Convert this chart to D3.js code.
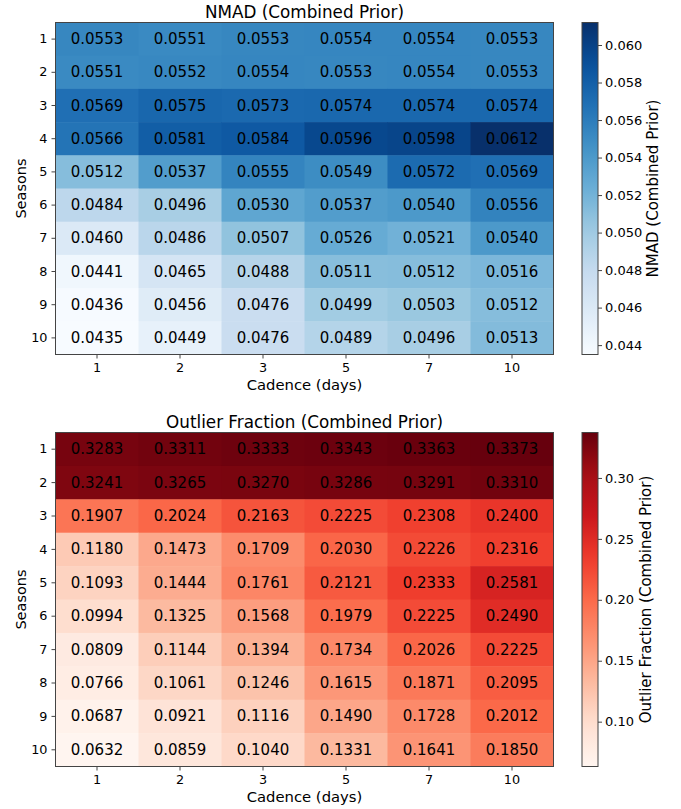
<!DOCTYPE html>
<html>
<head>
<meta charset="utf-8">
<script src="https://cdn.jsdelivr.net/npm/d3@7"></script>
<style>
  html, body { margin: 0; padding: 0; background: #fff; }
  svg { display: block; font-family: "DejaVu Sans", sans-serif; }
</style>
</head>
<body>
<svg id="chart" width="681" height="809"></svg>
<script>
// Axis categories
const cadences = ["1", "2", "3", "5", "7", "10"];
const seasons = ["1", "2", "3", "4", "5", "6", "7", "8", "9", "10"];

// NMAD per season (rows) and cadence (columns)
const nmadValues = [
  [0.0553, 0.0551, 0.0553, 0.0554, 0.0554, 0.0553],
  [0.0551, 0.0552, 0.0554, 0.0553, 0.0554, 0.0553],
  [0.0569, 0.0575, 0.0573, 0.0574, 0.0574, 0.0574],
  [0.0566, 0.0581, 0.0584, 0.0596, 0.0598, 0.0612],
  [0.0512, 0.0537, 0.0555, 0.0549, 0.0572, 0.0569],
  [0.0484, 0.0496, 0.0530, 0.0537, 0.0540, 0.0556],
  [0.0460, 0.0486, 0.0507, 0.0526, 0.0521, 0.0540],
  [0.0441, 0.0465, 0.0488, 0.0511, 0.0512, 0.0516],
  [0.0436, 0.0456, 0.0476, 0.0499, 0.0503, 0.0512],
  [0.0435, 0.0449, 0.0476, 0.0489, 0.0496, 0.0513]
];

// Outlier fraction per season (rows) and cadence (columns)
const outlierValues = [
  [0.3283, 0.3311, 0.3333, 0.3343, 0.3363, 0.3373],
  [0.3241, 0.3265, 0.3270, 0.3286, 0.3291, 0.3310],
  [0.1907, 0.2024, 0.2163, 0.2225, 0.2308, 0.2400],
  [0.1180, 0.1473, 0.1709, 0.2030, 0.2226, 0.2316],
  [0.1093, 0.1444, 0.1761, 0.2121, 0.2333, 0.2581],
  [0.0994, 0.1325, 0.1568, 0.1979, 0.2225, 0.2490],
  [0.0809, 0.1144, 0.1394, 0.1734, 0.2026, 0.2225],
  [0.0766, 0.1061, 0.1246, 0.1615, 0.1871, 0.2095],
  [0.0687, 0.0921, 0.1116, 0.1490, 0.1728, 0.2012],
  [0.0632, 0.0859, 0.1040, 0.1331, 0.1641, 0.1850]
];

// Colorbar tick values
const nmadTicks = [0.044, 0.046, 0.048, 0.050, 0.052, 0.054, 0.056, 0.058, 0.060];
const outlierTicks = [0.10, 0.15, 0.20, 0.25, 0.30];

// Sequential palettes (ColorBrewer 9-class), linearly interpolated
const bluesStops = ["#f7fbff", "#deebf7", "#c6dbef", "#9ecae1", "#6baed6", "#4292c6", "#2171b5", "#08519c", "#08306b"];
const redsStops = ["#fff5f0", "#fee0d2", "#fcbba1", "#fc9272", "#fb6a4a", "#ef3b2c", "#cb181d", "#a50f15", "#67000d"];

const svg = d3.select("#chart");
const frameColor = "#444";

function drawHeatmap(cfg) {
  const { values, top, bottom, left, right, stops, title, label, labelX, ticks, fmt, tickFmt } = cfg;
  const flat = values.flat();
  const vmin = d3.min(flat), vmax = d3.max(flat);
  const interp = d3.piecewise(d3.interpolateRgb, stops);
  const color = d3.scaleSequential(interp).domain([vmin, vmax]);

  const x = d3.scaleBand().domain(cadences).range([left, right]);
  const y = d3.scaleBand().domain(seasons).range([top, bottom]);

  const g = svg.append("g");

  const cells = [];
  values.forEach((row, i) => row.forEach((v, j) => cells.push({ s: seasons[i], c: cadences[j], v })));

  g.selectAll("rect.cell").data(cells).join("rect")
    .attr("class", "cell")
    .attr("x", d => x(d.c))
    .attr("y", d => y(d.s))
    .attr("width", x.bandwidth() + 0.5)
    .attr("height", y.bandwidth() + 0.5)
    .attr("fill", d => color(d.v));

  g.selectAll("text.val").data(cells).join("text")
    .attr("class", "val")
    .attr("x", d => x(d.c) + x.bandwidth() / 2)
    .attr("y", d => y(d.s) + y.bandwidth() / 2)
    .attr("text-anchor", "middle")
    .attr("dominant-baseline", "central")
    .attr("font-size", 15)
    .attr("fill", "#000")
    .text(d => fmt(d.v));

  g.append("rect")
    .attr("x", left).attr("y", top)
    .attr("width", right - left).attr("height", bottom - top)
    .attr("fill", "none").attr("stroke", frameColor).attr("stroke-width", 1);

  const xAxis = g.append("g")
    .attr("transform", `translate(0,${bottom})`)
    .call(d3.axisBottom(x).tickSize(4).tickPadding(4));
  const yAxis = g.append("g")
    .attr("transform", `translate(${left},0)`)
    .call(d3.axisLeft(y).tickSize(4).tickPadding(4));
  [xAxis, yAxis].forEach(a => {
    a.select(".domain").remove();
    a.selectAll(".tick line").attr("stroke", frameColor);
    a.selectAll(".tick text").attr("font-size", 12.8).attr("fill", "#000").attr("font-family", "DejaVu Sans");
  });

  g.append("text")
    .attr("x", (left + right) / 2).attr("y", top - 4.5)
    .attr("text-anchor", "middle")
    .attr("font-size", 16.8)
    .text(title);

  g.append("text")
    .attr("x", (left + right) / 2).attr("y", bottom + 35)
    .attr("text-anchor", "middle")
    .attr("font-size", 14.8)
    .text("Cadence (days)");

  g.append("text")
    .attr("transform", `translate(26,${(top + bottom) / 2}) rotate(-90)`)
    .attr("text-anchor", "middle")
    .attr("font-size", 14.5)
    .text("Seasons");

  // Colorbar
  const cbLeft = 582, cbWidth = 16;
  const cbScale = d3.scaleLinear().domain([vmin, vmax]).range([bottom, top]);
  const gradId = "grad-" + cfg.id;
  const grad = svg.append("defs").append("linearGradient")
    .attr("id", gradId).attr("x1", 0).attr("y1", 1).attr("x2", 0).attr("y2", 0);
  d3.range(0, 1.0001, 0.05).forEach(t => {
    grad.append("stop").attr("offset", t).attr("stop-color", interp(t));
  });
  g.append("rect")
    .attr("x", cbLeft).attr("y", top)
    .attr("width", cbWidth).attr("height", bottom - top)
    .attr("fill", `url(#${gradId})`)
    .attr("stroke", frameColor).attr("stroke-width", 1);

  const cbAxis = g.append("g")
    .attr("transform", `translate(${cbLeft + cbWidth},0)`)
    .call(d3.axisRight(cbScale).tickValues(ticks).tickFormat(tickFmt).tickSize(4).tickPadding(3));
  cbAxis.select(".domain").remove();
  cbAxis.selectAll(".tick line").attr("stroke", frameColor);
  cbAxis.selectAll(".tick text").attr("font-size", 13).attr("fill", "#000").attr("font-family", "DejaVu Sans");

  g.append("text")
    .attr("transform", `translate(${labelX},${(top + bottom) / 2}) rotate(-90)`)
    .attr("text-anchor", "middle")
    .attr("font-size", 15)
    .text(label);
}

drawHeatmap({
  id: "nmad",
  values: nmadValues,
  top: 22.5, bottom: 354.5, left: 55.5, right: 553.5,
  stops: bluesStops,
  title: "NMAD (Combined Prior)",
  label: "NMAD (Combined Prior)",
  labelX: 658,
  ticks: nmadTicks,
  fmt: d3.format(".4f"),
  tickFmt: d3.format(".3f")
});

drawHeatmap({
  id: "outlier",
  values: outlierValues,
  top: 432.5, bottom: 766.5, left: 55.5, right: 553.5,
  stops: redsStops,
  title: "Outlier Fraction (Combined Prior)",
  label: "Outlier Fraction (Combined Prior)",
  labelX: 651,
  ticks: outlierTicks,
  fmt: d3.format(".4f"),
  tickFmt: d3.format(".2f")
});
</script>
</body>
</html>
